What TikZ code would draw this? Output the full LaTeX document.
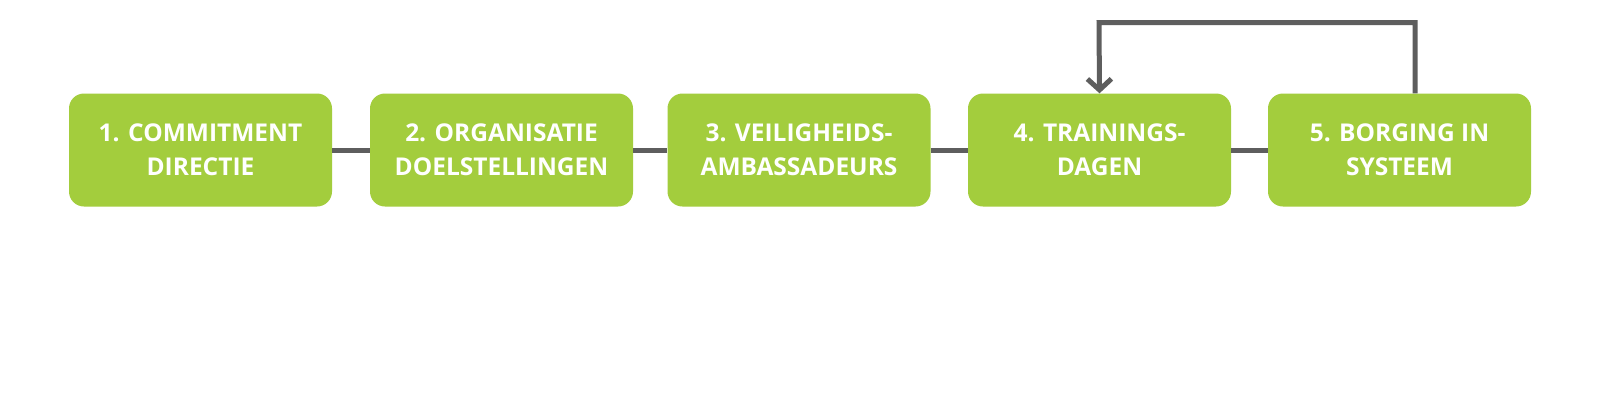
\documentclass[tikz,border=0pt]{standalone}
\usepackage{fontspec}
\setmainfont{Open Sans}
\usetikzlibrary{arrows.meta}
\definecolor{boxgreen}{HTML}{A3CD3D}
\definecolor{linegray}{HTML}{5E5E5E}
\begin{document}
\begin{tikzpicture}[x=1pt,y=1pt,
  stepbox/.style={fill=boxgreen, draw=none, rounded corners=15pt, minimum width=263pt, minimum height=113pt, inner sep=0pt,
    text=white, font=\fontsize{24.5}{34}\selectfont\bfseries, align=center},
  link/.style={draw=linegray, line width=5pt}]
\useasboundingbox (0,0) rectangle (1600,-400);
\fill[white] (0,0) rectangle (1600,-400);
\node[stepbox] (b1) at (200.5,-150) {1. COMMITMENT\\DIRECTIE};
\node[stepbox] (b2) at (501.5,-150) {2. ORGANISATIE\\DOELSTELLINGEN};
\node[stepbox] (b3) at (799,-150) {3. VEILIGHEIDS-\\AMBASSADEURS};
\node[stepbox] (b4) at (1099.5,-150) {4. TRAININGS-\\DAGEN};
\node[stepbox] (b5) at (1399.5,-150) {5. BORGING IN\\SYSTEEM};
\draw[link] (b1.east) -- (b2.west);
\draw[link] (b2.east) -- (b3.west);
\draw[link] (b3.east) -- (b4.west);
\draw[link] (b4.east) -- (b5.west);
\coordinate (tl) at (1099,-22.5);
\coordinate (tr) at (1415,-22.5);
\draw[link, -{Straight Barb[length=11pt,width=24pt,line width=5pt]}] (b5.north -| tr) -- (tr) -- (tl) -- (b4.north);
\end{tikzpicture}
\end{document}
